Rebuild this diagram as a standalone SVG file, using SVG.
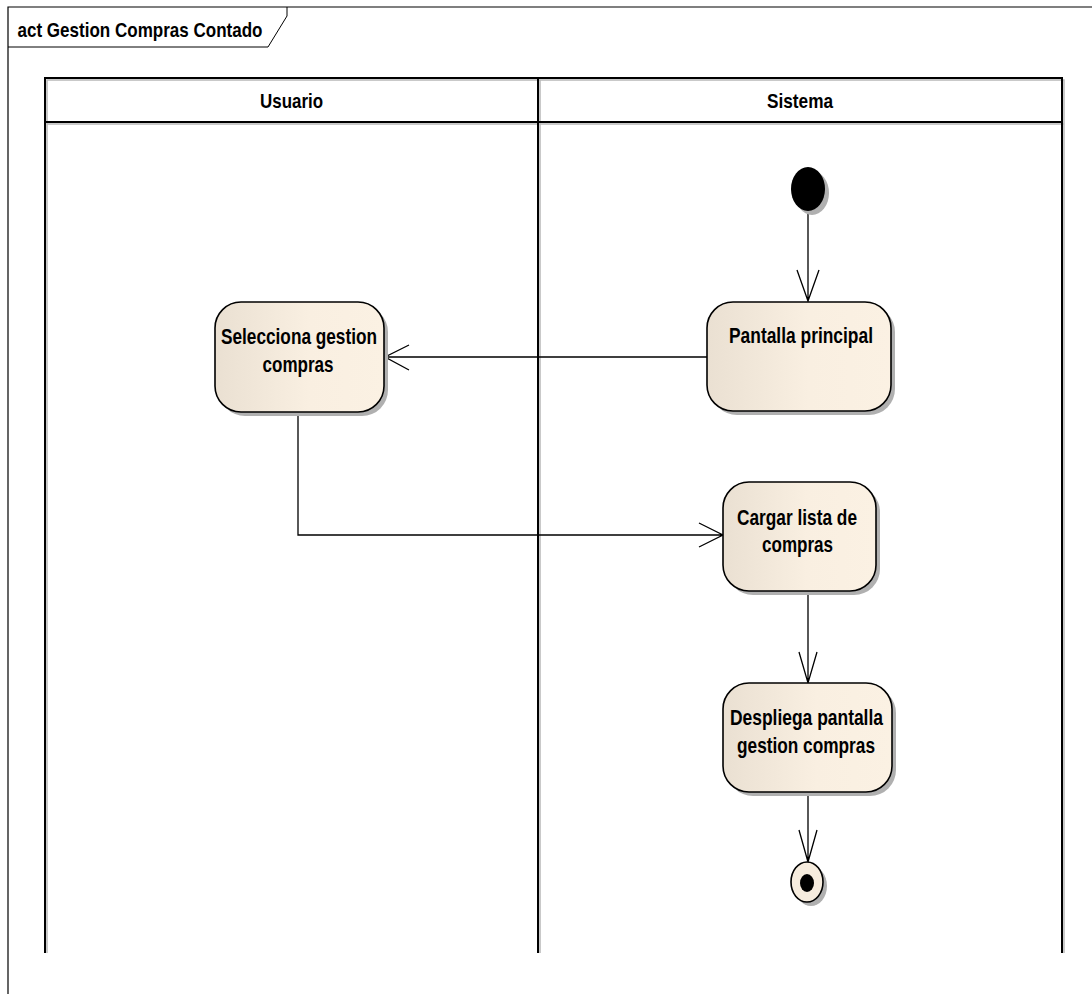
<svg xmlns="http://www.w3.org/2000/svg" width="1092" height="994" viewBox="0 0 1092 994">
<style>
.t{font-family:"Liberation Sans",Arial,sans-serif;font-weight:bold;font-size:22.5px;fill:#000;text-anchor:middle}
.lane{fill:none;stroke:#000;stroke-width:2}
.lsh{fill:none;stroke:#b8b8b8;stroke-width:1.5}
.node{fill:url(#g);stroke:#000;stroke-width:1.6}
.sh{fill:#b0b0b0}
.c{fill:none;stroke:#000;stroke-width:1.3}
</style>
<defs>
<linearGradient id="g" x1="0" y1="0" x2="1" y2="0">
<stop offset="0" stop-color="#EAE0D2"/>
<stop offset="0.55" stop-color="#F9EFE1"/>
<stop offset="1" stop-color="#FBF1E3"/>
</linearGradient>
</defs>
<rect width="1092" height="994" fill="#fff"/>
<g id="frame">
<path d="M8,994 V7 H1092" fill="none" stroke="#000" stroke-width="1.2"/>
<path d="M8,47 H268 L287,16 V7" fill="none" stroke="#000" stroke-width="1"/>
<text class="t" x="140" y="37" style="font-size:21px" textLength="245" lengthAdjust="spacingAndGlyphs">act Gestion Compras Contado</text>
</g>
<g id="lanes">
<path class="lsh" d="M47,953 V80 H1064 V953 M47,124 H1064 M540,80 V953"/>
<path class="lane" d="M45,953 V78 H1062 V953 M45,122 H1062 M538,78 V953"/>
<text class="t" x="291.5" y="108" style="font-size:21px" textLength="63" lengthAdjust="spacingAndGlyphs">Usuario</text>
<text class="t" x="800" y="108" style="font-size:21px" textLength="66" lengthAdjust="spacingAndGlyphs">Sistema</text>
</g>
<g id="connectors">
<path class="c" d="M808,211 V301 M797,270 L808,301 L819,270"/>
<path class="c" d="M707,357 H385 M409,345 L385,357 L409,370"/>
<path class="c" d="M298,412 V535 H723 M699,523 L723,535 L699,547"/>
<path class="c" d="M808,591 V683 M799,652 L808,683 L817,652"/>
<path class="c" d="M808,792 V862 M799,830 L808,862 L817,830"/>
</g>
<g id="start">
<ellipse class="sh" cx="812" cy="193" rx="17" ry="22"/>
<ellipse cx="808" cy="189" rx="17" ry="22" fill="#000"/>
</g>
<g id="selecciona">
<rect class="sh" x="219" y="306" width="169" height="110" rx="26"/>
<rect class="node" x="215" y="302" width="169" height="110" rx="26"/>
<text class="t" x="299" y="344" textLength="156" lengthAdjust="spacingAndGlyphs">Selecciona gestion</text>
<text class="t" x="298" y="372" textLength="71" lengthAdjust="spacingAndGlyphs">compras</text>
</g>
<g id="pantalla">
<rect class="sh" x="711" y="306" width="184" height="109" rx="26"/>
<rect class="node" x="707" y="302" width="184" height="109" rx="26"/>
<text class="t" x="801" y="343" textLength="144" lengthAdjust="spacingAndGlyphs">Pantalla principal</text>
</g>
<g id="cargar">
<rect class="sh" x="727" y="486" width="153" height="109" rx="26"/>
<rect class="node" x="723" y="482" width="153" height="109" rx="26"/>
<text class="t" x="797" y="525" textLength="120" lengthAdjust="spacingAndGlyphs">Cargar lista de</text>
<text class="t" x="797.5" y="552" textLength="71" lengthAdjust="spacingAndGlyphs">compras</text>
</g>
<g id="despliega">
<rect class="sh" x="727" y="687" width="169" height="109" rx="26"/>
<rect class="node" x="723" y="683" width="169" height="109" rx="26"/>
<text class="t" x="806.5" y="725" textLength="153" lengthAdjust="spacingAndGlyphs">Despliega pantalla</text>
<text class="t" x="806" y="753" textLength="138" lengthAdjust="spacingAndGlyphs">gestion compras</text>
</g>
<g id="end">
<ellipse class="sh" cx="811" cy="886" rx="16" ry="20"/>
<ellipse cx="807" cy="882" rx="16" ry="20" fill="#F6ECDE" stroke="#000" stroke-width="1.6"/>
<ellipse cx="807" cy="883" rx="7" ry="9" fill="#000"/>
</g>
</svg>
